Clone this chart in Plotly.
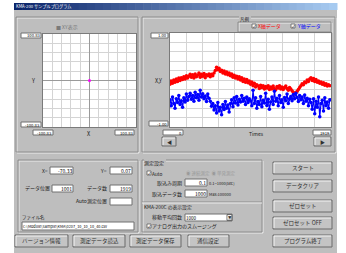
import plotly.graph_objects as go

# ---------------- data ----------------
xy_x = [0.0]
xy_y = [0.0]

sample_index = list(range(0, 1920, 15))  # 128 samples

x_axis_data = [
    -0.09, -0.02, -0.07, 0.00, -0.05, 0.02, -0.03, 0.04, -0.01, 0.05, 0.01, 0.07, 0.02, 0.09, 0.04, 0.08,
    0.12, 0.06, 0.11, 0.04, 0.13, 0.07, 0.10, 0.15, 0.06, 0.12, 0.08, 0.14, 0.05, 0.11, 0.09, 0.13,
    0.07, 0.12, 0.09, 0.15, 0.20, 0.27, 0.22, 0.25, 0.18, 0.21, 0.15, 0.19, 0.13, 0.17, 0.11, 0.15,
    0.09, 0.13, 0.06, 0.10, 0.04, 0.08, 0.02, 0.07, 0.00, 0.05, -0.03, 0.02, -0.05, 0.01, -0.06, -0.02,
    -0.09, -0.04, -0.12, -0.07, -0.15, -0.10, -0.13, -0.18, -0.11, -0.16, -0.12, -0.19, -0.14, -0.17, -0.12, -0.20,
    -0.15, -0.19, -0.13, -0.18, -0.21, -0.14, -0.17, -0.12, -0.19, -0.15, -0.20, -0.16, -0.13, -0.18, -0.22, -0.16,
    -0.19, -0.23, -0.26, -0.30, -0.27, -0.24, -0.20, -0.16, -0.12, -0.08, -0.10, -0.04, -0.06, 0.00, -0.03, 0.02,
    0.05, -0.01, 0.03, -0.03, 0.01, -0.05, -0.02, -0.07, -0.04, -0.09, -0.06, -0.11, -0.08, -0.13, -0.10, -0.12,
]

y_axis_data = [
    -0.42, -0.55, -0.36, -0.50, -0.60, -0.40, -0.48, -0.33, -0.52, -0.44, -0.58, -0.38, -0.47, -0.30, -0.43, -0.35,
    -0.28, -0.41, -0.33, -0.45, -0.26, -0.38, -0.31, -0.43, -0.22, -0.36, -0.29, -0.40, -0.34, -0.46, -0.30, -0.39,
    -0.45, -0.56, -0.50, -0.64, -0.55, -0.70, -0.48, -0.66, -0.58, -0.74, -0.52, -0.63, -0.46, -0.60, -0.53, -0.68,
    -0.50, -0.42, -0.57, -0.38, -0.49, -0.35, -0.53, -0.41, -0.47, -0.33, -0.45, -0.39, -0.52, -0.36, -0.48, -0.40,
    -0.44, -0.55, -0.22, -0.50, -0.38, -0.60, -0.46, -0.52, -0.35, -0.57, -0.43, -0.49, -0.28, -0.54, -0.41, -0.62,
    -0.47, -0.36, -0.52, -0.24, -0.45, -0.39, -0.55, -0.33, -0.48, -0.42, -0.58, -0.37, -0.44, -0.30, -0.50, -0.40,
    -0.35, -0.44, -0.31, -0.40, -0.28, -0.37, -0.46, -0.33, -0.42, -0.36, -0.50, -0.32, -0.45, -0.39, -0.55, -0.41,
    -0.48, -0.62, -0.40, -0.72, -0.45, -0.58, -0.36, -0.78, -0.50, -0.43, -0.66, -0.38, -0.55, -0.47, -0.60, -0.42,
]

xy_range = [-100.83, 100.83]
time_range = [0, 1919]
val_range = [-1.0, 1.0]

# ---------------- helpers ----------------
W, H = 346, 253
JP = "Noto Sans CJK JP"
GRAY = "#bebebe"
shapes = []
annotations = []


def px(x):
    return x / W


def py(y):
    return 1 - y / H


def rect(x0, y0, x1, y1, fill, line="rgba(0,0,0,0)", lw=0):
    shapes.append(dict(type="rect", xref="paper", yref="paper",
                       x0=px(x0), x1=px(x1), y0=py(y1), y1=py(y0),
                       fillcolor=fill, line=dict(color=line, width=lw), layer="below"))


def hline(x0, x1, y, color, lw=1):
    shapes.append(dict(type="line", xref="paper", yref="paper",
                       x0=px(x0), x1=px(x1), y0=py(y), y1=py(y),
                       line=dict(color=color, width=lw), layer="below"))


def vline(x, y0, y1, color, lw=1):
    shapes.append(dict(type="line", xref="paper", yref="paper",
                       x0=px(x), x1=px(x), y0=py(y0), y1=py(y1),
                       line=dict(color=color, width=lw), layer="below"))


def text(x, y, s, size=5.5, color="#000000", anchor="left"):
    annotations.append(dict(xref="paper", yref="paper", x=px(x), y=py(y), text=s,
                            showarrow=False, xanchor=anchor, yanchor="middle",
                            borderpad=0, borderwidth=0,
                            font=dict(size=size, color=color, family=JP)))


def groupbox(x0, y0, x1, y1):
    rect(x0 + 1, y0 + 1, x1 + 1, y1 + 1, "rgba(0,0,0,0)", "#ececec", 1)
    rect(x0, y0, x1, y1, "rgba(0,0,0,0)", "#8c8c8c", 1)


def button(x0, y0, x1, y1, label, size=5.5):
    rect(x0, y0, x1, y1, "#c4c4c4", "#6a6a6a", 1)
    hline(x0 + 1, x1 - 1, y0 + 1, "#f4f4f4")
    vline(x0 + 1, y0 + 1, y1 - 1, "#f4f4f4")
    text((x0 + x1) / 2, (y0 + y1) / 2, label, size=size, color="#303030", anchor="center")


def field(x0, y0, x1, y1, val, size=5, anchor="right"):
    rect(x0, y0, x1, y1, "#ffffff", "#707070", 1)
    if anchor == "right":
        text(x1 - 1, (y0 + y1) / 2, val, size=size, anchor="right")
    else:
        text(x0 + 1, (y0 + y1) / 2, val, size=size, anchor="left")


def checkbox(x, y, color="#000000"):
    rect(x, y - 2, x + 4, y + 2, "#ffffff", "#606060", 0.8)
    text(x + 2, y, "✓", size=4, color=color, anchor="center")


# ---------------- window chrome ----------------
rect(14, 3, 337, 253, GRAY)
c0 = (10, 36, 106)
c1 = (166, 202, 240)
n = 40
for i in range(n):
    t = i / (n - 1)
    col = "rgb(%d,%d,%d)" % tuple(int(a + (b - a) * t) for a, b in zip(c0, c1))
    x0 = 14 + (337 - 14) * i / n
    x1 = 14 + (337 - 14) * (i + 1) / n + 0.5
    rect(x0, 3, x1, 10, col)
text(16, 6.5, "KMA-200 サンプルプログラム", size=4.2, color="#ffffff")

# upper group boxes
groupbox(16, 17, 138, 152)
groupbox(142, 17, 335, 152)

# plot area backgrounds
rect(43, 34, 136, 127, "#ffffff")
rect(170, 33, 331, 127, "#ffffff")

# ---- left XY chart labels ----
text(56, 27, "■ XY表示", size=5, color="#7a7a7a")
field(21, 33, 41, 38, "100.83", size=4.2)
field(21, 122, 41, 127, "-100.83", size=4.2)
field(33, 130, 53, 135, "-100.83", size=4.2)
field(115, 130, 134, 135, "100.83", size=4.2)
text(33, 81, "Y", size=5.5, color="#202020", anchor="center")
text(89, 134, "X", size=5.5, color="#202020", anchor="center")

# ---- right chart labels ----
field(151, 33, 168, 38, "1.00", size=4.2)
field(149, 121, 168, 126, "-1.00", size=4.2)
text(158, 81, "X,Y", size=5.5, color="#202020", anchor="center")
field(163, 130, 183, 135, "0", size=4.2)
field(313, 130, 331, 135, "1919", size=4.2)
text(256, 133, "Times", size=5, color="#202020", anchor="center")
button(162, 137, 176, 146, "◀", size=5)
button(314, 137, 331, 146, "▶", size=5)

# legend box
groupbox(238, 22, 331, 32)
rect(239, 16, 251, 21, GRAY)
text(240, 19, "凡例", size=4.5, color="#202020")
checkbox(252, 26)
text(258, 26, "X軸データ", size=5, color="#ff0000")
checkbox(291, 26)
text(297, 26, "Y軸データ", size=5, color="#0000ff")

# ---------------- lower left group ----------------
groupbox(18, 160, 138, 232)
text(48, 170, "X=", size=5, color="#202020", anchor="right")
field(50, 167, 73, 174, "-70.33")
text(107, 170, "Y=", size=5, color="#202020", anchor="right")
field(110, 167, 132, 174, "0.07")
text(50, 188, "データ位置", size=5, color="#202020", anchor="right")
field(52, 185, 73, 192, "1001")
text(107, 188, "データ数", size=5, color="#202020", anchor="right")
field(110, 185, 132, 192, "1919")
text(107, 201, "Auto測定位置", size=5, color="#202020", anchor="right")
field(110, 198, 132, 205, "")
text(22, 217, "ファイル名", size=4.5, color="#202020")
field(22, 222, 134, 230, "C:\\Module\\Sample\\KMA\\0207_10_10_10_40.csv", size=3.8, anchor="left")

# ---------------- middle group ----------------
groupbox(142, 160, 262, 232)
rect(144, 159, 166, 166, GRAY)
text(144, 163, "測定設定", size=5, color="#202020")
checkbox(147, 173)
text(152, 173, "Auto", size=4.8, color="#202020")
text(186, 173, "◉ 連続測定  ◉ 単発測定", size=4.5, color="#9a9a9a")
text(182, 183, "取込み周期", size=5, color="#202020", anchor="right")
field(185, 179, 207, 186, "0.1")
text(209, 183, "0.1~1000(sec)", size=4, color="#202020")
text(182, 194, "取込データ数", size=5, color="#202020", anchor="right")
field(185, 190, 207, 197, "1000")
text(209, 194, "Max:100000", size=4, color="#202020")
hline(142, 262, 202, "#8c8c8c")
hline(142, 262, 203, "#ececec")
text(144, 207, "KMA-200C の表示設定", size=4.8, color="#202020")
text(182, 217, "移動平均回数", size=5, color="#202020", anchor="right")
field(185, 214, 232, 221, "1000", size=4.5, anchor="left")
button(227, 214.5, 232, 220.5, "▼", size=3.5)
checkbox(147, 226)
text(152, 226, "アナログ出力のスムージング", size=5, color="#202020")

# ---------------- buttons ----------------
button(273, 162, 332, 174, "スタート")
button(273, 180, 332, 192, "データクリア")
button(273, 200, 332, 212, "ゼロセット")
button(273, 217, 332, 229, "ゼロセット OFF")
button(273, 235, 332, 247, "プログラム終了")
button(15, 235, 68, 247, "バージョン情報")
button(73, 235, 125, 247, "測定データ読込")
button(130, 235, 181, 247, "測定データ保存")
button(188, 235, 229, 247, "通信設定")

# ---------------- figure ----------------
fig = go.Figure()
fig.add_trace(go.Scatter(x=xy_x, y=xy_y, mode="markers",
                         marker=dict(color="#ff00ff", size=3),
                         xaxis="x", yaxis="y", showlegend=False, hoverinfo="skip"))
fig.add_trace(go.Scatter(x=sample_index, y=x_axis_data, mode="lines+markers",
                         line=dict(color="#ff0000", width=1.2),
                         marker=dict(color="#ff0000", size=3.5),
                         xaxis="x2", yaxis="y2", showlegend=False))
fig.add_trace(go.Scatter(x=sample_index, y=y_axis_data, mode="lines+markers",
                         line=dict(color="#0000ff", width=1.2),
                         marker=dict(color="#0000ff", size=3.5),
                         xaxis="x2", yaxis="y2", showlegend=False))

grid = dict(showgrid=True, gridcolor="#d4d4d4", gridwidth=1, showticklabels=False,
            ticks="", showline=True, linecolor="#7a7a7a", linewidth=1, mirror=True,
            fixedrange=True)
span_xy = xy_range[1] - xy_range[0]
fig.update_layout(
    width=W, height=H,
    margin=dict(l=0, r=0, t=0, b=0),
    paper_bgcolor="#ffffff",
    plot_bgcolor="#ffffff",
    showlegend=False,
    shapes=shapes,
    annotations=annotations,
    xaxis=dict(domain=[px(43), px(136)], range=xy_range, tick0=xy_range[0], dtick=span_xy / 10,
               zeroline=True, zerolinecolor="#9a9a9a", zerolinewidth=1, anchor="y", **grid),
    yaxis=dict(domain=[py(127), py(34)], range=xy_range, tick0=xy_range[0], dtick=span_xy / 10,
               zeroline=True, zerolinecolor="#9a9a9a", zerolinewidth=1, anchor="x", **grid),
    xaxis2=dict(domain=[px(170), px(331)], range=time_range, tick0=0,
                dtick=(time_range[1] - time_range[0]) / 10, zeroline=False, anchor="y2", **grid),
    yaxis2=dict(domain=[py(127), py(33)], range=val_range, tick0=-1, dtick=0.2,
                zeroline=False, anchor="x2", **grid),
)

fig.write_html("out.html", config={"displayModeBar": False},
               post_script="document.body.style.margin='0';document.body.style.overflow='hidden';")
